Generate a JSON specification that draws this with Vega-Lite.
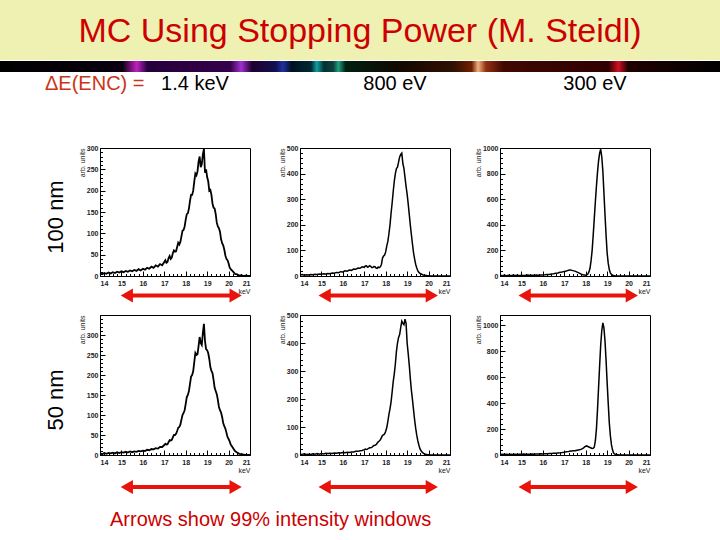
{
  "$schema": "https://vega.github.io/schema/vega-lite/v6.json",
  "padding": 0,
  "background": "white",
  "spacing": 1,
  "datasets": {
    "spectra": [
      {"e":14.0,"a":6,"b":4,"c":4,"d":4,"f":3,"g":4},
      {"e":14.1,"a":4,"b":6,"c":3,"d":2,"f":2,"g":6},
      {"e":14.2,"a":7,"b":3,"c":6,"d":5,"f":4,"g":3},
      {"e":14.3,"a":5,"b":5,"c":2,"d":3,"f":2,"g":5},
      {"e":14.4,"a":8,"b":4,"c":5,"d":5,"f":3,"g":4},
      {"e":14.5,"a":6,"b":6,"c":3,"d":4,"f":2,"g":6},
      {"e":14.6,"a":9,"b":5,"c":6,"d":6,"f":4,"g":3},
      {"e":14.7,"a":7,"b":7,"c":4,"d":4,"f":3,"g":5},
      {"e":14.8,"a":10,"b":6,"c":5,"d":7,"f":5,"g":4},
      {"e":14.9,"a":8,"b":8,"c":3,"d":5,"f":3,"g":6},
      {"e":15.0,"a":11,"b":7,"c":6,"d":7,"f":5,"g":5},
      {"e":15.1,"a":9,"b":9,"c":4,"d":6,"f":4,"g":7},
      {"e":15.2,"a":12,"b":8,"c":5,"d":8,"f":6,"g":5},
      {"e":15.3,"a":10,"b":10,"c":7,"d":6,"f":5,"g":6},
      {"e":15.4,"a":13,"b":9,"c":4,"d":9,"f":6,"g":5},
      {"e":15.5,"a":11,"b":12,"c":6,"d":7,"f":5,"g":7},
      {"e":15.6,"a":14,"b":11,"c":5,"d":9,"f":7,"g":6},
      {"e":15.7,"a":12,"b":14,"c":7,"d":8,"f":6,"g":8},
      {"e":15.8,"a":16,"b":13,"c":6,"d":10,"f":8,"g":7},
      {"e":15.9,"a":13,"b":17,"c":8,"d":9,"f":7,"g":9},
      {"e":16.0,"a":17,"b":16,"c":8,"d":11,"f":9,"g":8},
      {"e":16.1,"a":15,"b":20,"c":9,"d":10,"f":8,"g":9},
      {"e":16.2,"a":19,"b":19,"c":11,"d":13,"f":10,"g":10},
      {"e":16.3,"a":17,"b":23,"c":12,"d":12,"f":9,"g":11},
      {"e":16.4,"a":22,"b":22,"c":15,"d":15,"f":11,"g":12},
      {"e":16.5,"a":19,"b":27,"c":17,"d":14,"f":11,"g":13},
      {"e":16.6,"a":25,"b":26,"c":21,"d":17,"f":13,"g":14},
      {"e":16.7,"a":22,"b":31,"c":24,"d":16,"f":13,"g":16},
      {"e":16.8,"a":28,"b":30,"c":29,"d":20,"f":15,"g":17},
      {"e":16.9,"a":25,"b":36,"c":31,"d":20,"f":16,"g":19},
      {"e":17.0,"a":33,"b":34,"c":36,"d":25,"f":19,"g":22},
      {"e":17.05,"a":37,"b":39,"c":38,"d":28,"f":21,"g":24},
      {"e":17.1,"a":31,"b":40,"c":39,"d":26,"f":20,"g":25},
      {"e":17.15,"a":33,"b":35,"c":42,"d":27,"f":21,"g":26},
      {"e":17.2,"a":42,"b":36,"c":45,"d":32,"f":24,"g":27},
      {"e":17.25,"a":47,"b":40,"c":46,"d":37,"f":26,"g":29},
      {"e":17.3,"a":40,"b":38,"c":46,"d":36,"f":26,"g":30},
      {"e":17.35,"a":43,"b":33,"c":44,"d":38,"f":27,"g":31},
      {"e":17.4,"a":54,"b":33,"c":42,"d":44,"f":31,"g":33},
      {"e":17.45,"a":60,"b":37,"c":40,"d":50,"f":34,"g":33},
      {"e":17.5,"a":57,"b":36,"c":38,"d":50,"f":35,"g":32},
      {"e":17.55,"a":58,"b":31,"c":34,"d":53,"f":37,"g":34},
      {"e":17.6,"a":68,"b":30,"c":30,"d":60,"f":42,"g":36},
      {"e":17.65,"a":78,"b":35,"c":26,"d":68,"f":47,"g":38},
      {"e":17.7,"a":74,"b":33,"c":22,"d":70,"f":50,"g":40},
      {"e":17.75,"a":80,"b":36,"c":18,"d":76,"f":54,"g":42},
      {"e":17.8,"a":93,"b":45,"c":14,"d":88,"f":62,"g":45},
      {"e":17.85,"a":106,"b":70,"c":11,"d":100,"f":70,"g":50},
      {"e":17.9,"a":108,"b":78,"c":8,"d":105,"f":72,"g":55},
      {"e":17.95,"a":116,"b":82,"c":7,"d":112,"f":76,"g":62},
      {"e":18.0,"a":132,"b":95,"c":6,"d":128,"f":85,"g":68},
      {"e":18.05,"a":145,"b":118,"c":9,"d":145,"f":98,"g":70},
      {"e":18.1,"a":147,"b":135,"c":15,"d":150,"f":120,"g":65},
      {"e":18.15,"a":158,"b":165,"c":32,"d":160,"f":145,"g":62},
      {"e":18.2,"a":176,"b":200,"c":60,"d":178,"f":165,"g":58},
      {"e":18.25,"a":190,"b":245,"c":120,"d":196,"f":190,"g":54},
      {"e":18.3,"a":190,"b":285,"c":200,"d":200,"f":225,"g":50},
      {"e":18.35,"a":200,"b":330,"c":320,"d":210,"f":262,"g":52},
      {"e":18.4,"a":222,"b":370,"c":450,"d":232,"f":290,"g":60},
      {"e":18.45,"a":240,"b":400,"c":580,"d":255,"f":325,"g":110},
      {"e":18.5,"a":236,"b":420,"c":700,"d":250,"f":370,"g":200},
      {"e":18.55,"a":245,"b":425,"c":810,"d":252,"f":400,"g":350},
      {"e":18.6,"a":268,"b":445,"c":900,"d":272,"f":420,"g":520},
      {"e":18.65,"a":280,"b":465,"c":960,"d":295,"f":430,"g":690},
      {"e":18.7,"a":255,"b":475,"c":990,"d":280,"f":455,"g":850},
      {"e":18.75,"a":262,"b":480,"c":930,"d":275,"f":478,"g":960},
      {"e":18.8,"a":285,"b":440,"c":820,"d":305,"f":470,"g":1020},
      {"e":18.85,"a":298,"b":420,"c":650,"d":328,"f":465,"g":980},
      {"e":18.9,"a":242,"b":385,"c":480,"d":285,"f":485,"g":880},
      {"e":18.95,"a":250,"b":350,"c":320,"d":265,"f":470,"g":730},
      {"e":19.0,"a":232,"b":320,"c":180,"d":262,"f":400,"g":560},
      {"e":19.05,"a":222,"b":282,"c":100,"d":255,"f":362,"g":400},
      {"e":19.1,"a":200,"b":240,"c":50,"d":240,"f":320,"g":250},
      {"e":19.15,"a":202,"b":198,"c":25,"d":220,"f":272,"g":150},
      {"e":19.2,"a":190,"b":160,"c":12,"d":210,"f":230,"g":80},
      {"e":19.25,"a":170,"b":124,"c":6,"d":205,"f":197,"g":40},
      {"e":19.3,"a":160,"b":90,"c":3,"d":188,"f":160,"g":15},
      {"e":19.35,"a":158,"b":66,"c":2,"d":168,"f":125,"g":8},
      {"e":19.4,"a":145,"b":45,"c":1,"d":160,"f":95,"g":3},
      {"e":19.45,"a":125,"b":31,"c":0,"d":152,"f":70,"g":1},
      {"e":19.5,"a":116,"b":20,"c":0,"d":138,"f":50,"g":1},
      {"e":19.55,"a":112,"b":14,"c":0,"d":120,"f":35,"g":0},
      {"e":19.6,"a":104,"b":10,"c":0,"d":112,"f":22,"g":0},
      {"e":19.65,"a":86,"b":8,"c":0,"d":106,"f":15,"g":0},
      {"e":19.7,"a":77,"b":6,"c":0,"d":95,"f":10,"g":0},
      {"e":19.75,"a":72,"b":4,"c":0,"d":80,"f":7,"g":0},
      {"e":19.8,"a":62,"b":3,"c":0,"d":72,"f":4,"g":0},
      {"e":19.85,"a":48,"b":2,"c":0,"d":66,"f":3,"g":0},
      {"e":19.9,"a":40,"b":2,"c":0,"d":56,"f":2,"g":0},
      {"e":19.95,"a":37,"b":1,"c":0,"d":45,"f":1,"g":0},
      {"e":20.0,"a":30,"b":1,"c":0,"d":40,"f":1,"g":0},
      {"e":20.05,"a":20,"b":0,"c":0,"d":34,"f":0,"g":0},
      {"e":20.1,"a":16,"b":0,"c":0,"d":26,"f":0,"g":0},
      {"e":20.2,"a":11,"b":0,"c":0,"d":18,"f":0,"g":0},
      {"e":20.3,"a":5,"b":0,"c":0,"d":10,"f":0,"g":0},
      {"e":20.4,"a":4,"b":0,"c":0,"d":6,"f":0,"g":0},
      {"e":20.5,"a":1,"b":0,"c":0,"d":3,"f":0,"g":0},
      {"e":20.6,"a":2,"b":0,"c":0,"d":2,"f":0,"g":0},
      {"e":20.7,"a":0,"b":0,"c":0,"d":1,"f":0,"g":0},
      {"e":20.8,"a":1,"b":0,"c":0,"d":0,"f":0,"g":0},
      {"e":20.9,"a":0,"b":0,"c":0,"d":0,"f":0,"g":0},
      {"e":21.0,"a":0,"b":0,"c":0,"d":0,"f":0,"g":0}
    ],
    "windows": [
      {"panel":"p11","lo":15.25,"hi":20.33},
      {"panel":"p12","lo":15.15,"hi":20.15},
      {"panel":"p13","lo":15.15,"hi":20.15},
      {"panel":"p21","lo":15.25,"hi":20.33},
      {"panel":"p22","lo":15.15,"hi":20.15},
      {"panel":"p23","lo":15.15,"hi":20.15}
    ]
  },
  "config": {
    "font": "Liberation Sans",
    "view": {"stroke": null},
    "axis": {
      "grid": false,
      "domainColor": "black",
      "tickColor": "black",
      "tickSize": -5,
      "labelFontSize": 7,
      "labelFontWeight": "bold",
      "labelColor": "#222222",
      "labelPadding": 7,
      "titleFontSize": 7,
      "titleFontWeight": "normal",
      "titleColor": "#222222",
      "titlePadding": 1
    },
    "axisX": {"labelPadding": 8},
    "title": {"font": "Liberation Sans", "fontSize": 20, "fontWeight": "normal", "color": "black", "anchor": "middle", "frame": "group"}
  },
  "vconcat": [
    {
      "width": 720, "height": 60,
      "view": {"fill": "#eef1b2", "stroke": null},
      "data": {"values": [{"t": "MC Using Stopping Power (M. Steidl)"}]},
      "mark": {"type": "text", "fontSize": 34, "color": "#cc0000", "baseline": "middle", "align": "center", "dy": 2},
      "encoding": {"text": {"field": "t"}}
    },
    {
      "width": 720, "height": 11,
      "view": {"stroke": null, "fill": {"gradient": "linear", "x1": 0, "y1": 0, "x2": 1, "y2": 0, "stops": [
        {"offset": 0, "color": "#000000"},
        {"offset": 0.17, "color": "#0a0010"},
        {"offset": 0.19, "color": "#c020c0"},
        {"offset": 0.205, "color": "#25003a"},
        {"offset": 0.32, "color": "#35004a"},
        {"offset": 0.335, "color": "#a030d0"},
        {"offset": 0.35, "color": "#200030"},
        {"offset": 0.383, "color": "#101050"},
        {"offset": 0.393, "color": "#2030a0"},
        {"offset": 0.405, "color": "#001020"},
        {"offset": 0.432, "color": "#002830"},
        {"offset": 0.44, "color": "#10a0a0"},
        {"offset": 0.45, "color": "#003030"},
        {"offset": 0.463, "color": "#104040"},
        {"offset": 0.47, "color": "#20a080"},
        {"offset": 0.48, "color": "#002010"},
        {"offset": 0.55, "color": "#100800"},
        {"offset": 0.63, "color": "#301000"},
        {"offset": 0.655, "color": "#702000"},
        {"offset": 0.664, "color": "#f0b080"},
        {"offset": 0.675, "color": "#903010"},
        {"offset": 0.7, "color": "#400800"},
        {"offset": 0.845, "color": "#300000"},
        {"offset": 0.859, "color": "#d01020"},
        {"offset": 0.872, "color": "#200000"},
        {"offset": 1, "color": "#000000"}
      ]}},
      "data": {"values": []},
      "mark": "point"
    },
    {
      "columns": 4,
      "bounds": "flush",
      "align": "each",
      "spacing": {"row": 14, "column": 50},
      "concat": [
        {
          "width": 50, "height": 128,
          "title": {"text": "ΔE(ENC) =", "anchor": "start", "dx": 45, "offset": 54, "color": "#cc3318"},
          "data": {"values": [{"t": "100 nm"}]},
          "mark": {"type": "text", "angle": 270, "baseline": "top", "align": "center", "fontSize": 22, "color": "black", "dx": -5, "dy": -4},
          "encoding": {"text": {"field": "t"}, "x": {"value": "width"}}
        },
        {
          "width": 150, "height": 128,
          "title": {"text": "1.4 keV", "dx": 20, "offset": 50},
          "data": {"name": "spectra"},
          "view": {"stroke": "black", "fill": "white"},
          "layer": [
            {"mark": {"type": "line", "color": "black", "strokeWidth": 1.8},
             "encoding": {
               "x": {"field": "e", "type": "quantitative", "scale": {"domain": [14, 21], "nice": false, "zero": false}, "axis": {"values": [14,15,16,17,18,19,20,21], "title": "keV", "titleAnchor": "end"}},
               "y": {"field": "a", "type": "quantitative", "scale": {"domain": [0, 300], "nice": false}, "axis": {"values": [0,50,100,150,200,250,300], "title": "arb. units", "titleAnchor": "end"}}}},
            {"mark": {"type": "line", "strokeOpacity": 0},
             "encoding": {
               "x": {"field": "e", "type": "quantitative", "axis": {"orient": "bottom", "values": [14.2,14.4,14.6,14.8,15.2,15.4,15.6,15.8,16.2,16.4,16.6,16.8,17.2,17.4,17.6,17.8,18.2,18.4,18.6,18.8,19.2,19.4,19.6,19.8,20.2,20.4,20.6,20.8], "labels": false, "domain": false, "tickSize": -2.5, "title": null}},
               "y": {"field": "a", "type": "quantitative", "axis": {"orient": "left", "values": [0,10,20,30,40,50,60,70,80,90,100,110,120,130,140,150,160,170,180,190,200,210,220,230,240,250,260,270,280,290,300], "labels": false, "domain": false, "tickSize": -2.5, "title": null}}}}
          ],
          "resolve": {"axis": {"x": "independent", "y": "independent"}}
        },
        {
          "width": 150, "height": 128,
          "title": {"text": "800 eV", "dx": 20, "offset": 50},
          "data": {"name": "spectra"},
          "view": {"stroke": "black", "fill": "white"},
          "layer": [
            {"mark": {"type": "line", "color": "black", "strokeWidth": 1.5},
             "encoding": {
               "x": {"field": "e", "type": "quantitative", "scale": {"domain": [14, 21], "nice": false, "zero": false}, "axis": {"values": [14,15,16,17,18,19,20,21], "title": "keV", "titleAnchor": "end"}},
               "y": {"field": "b", "type": "quantitative", "scale": {"domain": [0, 500], "nice": false}, "axis": {"values": [0,100,200,300,400,500], "title": "arb. units", "titleAnchor": "end"}}}},
            {"mark": {"type": "line", "strokeOpacity": 0},
             "encoding": {
               "x": {"field": "e", "type": "quantitative", "axis": {"orient": "bottom", "values": [14.2,14.4,14.6,14.8,15.2,15.4,15.6,15.8,16.2,16.4,16.6,16.8,17.2,17.4,17.6,17.8,18.2,18.4,18.6,18.8,19.2,19.4,19.6,19.8,20.2,20.4,20.6,20.8], "labels": false, "domain": false, "tickSize": -2.5, "title": null}},
               "y": {"field": "b", "type": "quantitative", "axis": {"orient": "left", "values": [0,20,40,60,80,100,120,140,160,180,200,220,240,260,280,300,320,340,360,380,400,420,440,460,480,500], "labels": false, "domain": false, "tickSize": -2.5, "title": null}}}}
          ],
          "resolve": {"axis": {"x": "independent", "y": "independent"}}
        },
        {
          "width": 150, "height": 128,
          "title": {"text": "300 eV", "dx": 20, "offset": 50},
          "data": {"name": "spectra"},
          "view": {"stroke": "black", "fill": "white"},
          "layer": [
            {"mark": {"type": "line", "color": "black", "strokeWidth": 1.5},
             "encoding": {
               "x": {"field": "e", "type": "quantitative", "scale": {"domain": [14, 21], "nice": false, "zero": false}, "axis": {"values": [14,15,16,17,18,19,20,21], "title": "keV", "titleAnchor": "end"}},
               "y": {"field": "c", "type": "quantitative", "scale": {"domain": [0, 1000], "nice": false}, "axis": {"values": [0,200,400,600,800,1000], "format": "d", "title": "arb. units", "titleAnchor": "end"}}}},
            {"mark": {"type": "line", "strokeOpacity": 0},
             "encoding": {
               "x": {"field": "e", "type": "quantitative", "axis": {"orient": "bottom", "values": [14.2,14.4,14.6,14.8,15.2,15.4,15.6,15.8,16.2,16.4,16.6,16.8,17.2,17.4,17.6,17.8,18.2,18.4,18.6,18.8,19.2,19.4,19.6,19.8,20.2,20.4,20.6,20.8], "labels": false, "domain": false, "tickSize": -2.5, "title": null}},
               "y": {"field": "c", "type": "quantitative", "axis": {"orient": "left", "values": [0,40,80,120,160,200,240,280,320,360,400,440,480,520,560,600,640,680,720,760,800,840,880,920,960,1000], "labels": false, "domain": false, "tickSize": -2.5, "title": null}}}}
          ],
          "resolve": {"axis": {"x": "independent", "y": "independent"}}
        },
        {"width": 50, "height": 11, "data": {"values": []}, "mark": "point"},
        {
          "width": 150, "height": 11,
          "data": {"name": "windows"},
          "transform": [{"filter": "datum.panel == 'p11'"}],
          "encoding": {"y": {"datum": 0, "type": "quantitative", "scale": {"domain": [-1, 1]}, "axis": null}},
          "layer": [
            {"mark": {"type": "rule", "color": "#e8140c", "strokeWidth": 4}, "encoding": {"x": {"field": "lo", "type": "quantitative", "scale": {"domain": [14, 21], "nice": false, "zero": false}, "axis": null}, "x2": {"field": "hi"}}},
            {"mark": {"type": "point", "shape": "triangle-left", "filled": true, "size": 200, "color": "#e8140c", "opacity": 1}, "encoding": {"x": {"field": "lo", "type": "quantitative", "scale": {"domain": [14, 21], "nice": false, "zero": false}, "axis": null}}},
            {"mark": {"type": "point", "shape": "triangle-right", "filled": true, "size": 200, "color": "#e8140c", "opacity": 1}, "encoding": {"x": {"field": "hi", "type": "quantitative", "scale": {"domain": [14, 21], "nice": false, "zero": false}, "axis": null}}}
          ]
        },
        {
          "width": 150, "height": 11,
          "data": {"name": "windows"},
          "transform": [{"filter": "datum.panel == 'p12'"}],
          "encoding": {"y": {"datum": 0, "type": "quantitative", "scale": {"domain": [-1, 1]}, "axis": null}},
          "layer": [
            {"mark": {"type": "rule", "color": "#e8140c", "strokeWidth": 4}, "encoding": {"x": {"field": "lo", "type": "quantitative", "scale": {"domain": [14, 21], "nice": false, "zero": false}, "axis": null}, "x2": {"field": "hi"}}},
            {"mark": {"type": "point", "shape": "triangle-left", "filled": true, "size": 200, "color": "#e8140c", "opacity": 1}, "encoding": {"x": {"field": "lo", "type": "quantitative", "scale": {"domain": [14, 21], "nice": false, "zero": false}, "axis": null}}},
            {"mark": {"type": "point", "shape": "triangle-right", "filled": true, "size": 200, "color": "#e8140c", "opacity": 1}, "encoding": {"x": {"field": "hi", "type": "quantitative", "scale": {"domain": [14, 21], "nice": false, "zero": false}, "axis": null}}}
          ]
        },
        {
          "width": 150, "height": 11,
          "data": {"name": "windows"},
          "transform": [{"filter": "datum.panel == 'p13'"}],
          "encoding": {"y": {"datum": 0, "type": "quantitative", "scale": {"domain": [-1, 1]}, "axis": null}},
          "layer": [
            {"mark": {"type": "rule", "color": "#e8140c", "strokeWidth": 4}, "encoding": {"x": {"field": "lo", "type": "quantitative", "scale": {"domain": [14, 21], "nice": false, "zero": false}, "axis": null}, "x2": {"field": "hi"}}},
            {"mark": {"type": "point", "shape": "triangle-left", "filled": true, "size": 200, "color": "#e8140c", "opacity": 1}, "encoding": {"x": {"field": "lo", "type": "quantitative", "scale": {"domain": [14, 21], "nice": false, "zero": false}, "axis": null}}},
            {"mark": {"type": "point", "shape": "triangle-right", "filled": true, "size": 200, "color": "#e8140c", "opacity": 1}, "encoding": {"x": {"field": "hi", "type": "quantitative", "scale": {"domain": [14, 21], "nice": false, "zero": false}, "axis": null}}}
          ]
        },
        {
          "width": 50, "height": 140,
          "data": {"values": [{"t": "50 nm"}]},
          "mark": {"type": "text", "angle": 270, "baseline": "top", "align": "center", "fontSize": 22, "color": "black", "dx": -15, "dy": -4},
          "encoding": {"text": {"field": "t"}, "x": {"value": "width"}}
        },
        {
          "width": 150, "height": 140,
          "data": {"name": "spectra"},
          "view": {"stroke": "black", "fill": "white"},
          "layer": [
            {"mark": {"type": "line", "color": "black", "strokeWidth": 1.8},
             "encoding": {
               "x": {"field": "e", "type": "quantitative", "scale": {"domain": [14, 21], "nice": false, "zero": false}, "axis": {"values": [14,15,16,17,18,19,20,21], "title": "keV", "titleAnchor": "end"}},
               "y": {"field": "d", "type": "quantitative", "scale": {"domain": [0, 350], "nice": false}, "axis": {"values": [0,50,100,150,200,250,300], "title": "arb. units", "titleAnchor": "end"}}}},
            {"mark": {"type": "line", "strokeOpacity": 0},
             "encoding": {
               "x": {"field": "e", "type": "quantitative", "axis": {"orient": "bottom", "values": [14.2,14.4,14.6,14.8,15.2,15.4,15.6,15.8,16.2,16.4,16.6,16.8,17.2,17.4,17.6,17.8,18.2,18.4,18.6,18.8,19.2,19.4,19.6,19.8,20.2,20.4,20.6,20.8], "labels": false, "domain": false, "tickSize": -2.5, "title": null}},
               "y": {"field": "d", "type": "quantitative", "axis": {"orient": "left", "values": [0,10,20,30,40,50,60,70,80,90,100,110,120,130,140,150,160,170,180,190,200,210,220,230,240,250,260,270,280,290,300,310,320,330,340,350], "labels": false, "domain": false, "tickSize": -2.5, "title": null}}}}
          ],
          "resolve": {"axis": {"x": "independent", "y": "independent"}}
        },
        {
          "width": 150, "height": 140,
          "data": {"name": "spectra"},
          "view": {"stroke": "black", "fill": "white"},
          "layer": [
            {"mark": {"type": "line", "color": "black", "strokeWidth": 1.5},
             "encoding": {
               "x": {"field": "e", "type": "quantitative", "scale": {"domain": [14, 21], "nice": false, "zero": false}, "axis": {"values": [14,15,16,17,18,19,20,21], "title": "keV", "titleAnchor": "end"}},
               "y": {"field": "f", "type": "quantitative", "scale": {"domain": [0, 500], "nice": false}, "axis": {"values": [0,100,200,300,400,500], "title": "arb. units", "titleAnchor": "end"}}}},
            {"mark": {"type": "line", "strokeOpacity": 0},
             "encoding": {
               "x": {"field": "e", "type": "quantitative", "axis": {"orient": "bottom", "values": [14.2,14.4,14.6,14.8,15.2,15.4,15.6,15.8,16.2,16.4,16.6,16.8,17.2,17.4,17.6,17.8,18.2,18.4,18.6,18.8,19.2,19.4,19.6,19.8,20.2,20.4,20.6,20.8], "labels": false, "domain": false, "tickSize": -2.5, "title": null}},
               "y": {"field": "f", "type": "quantitative", "axis": {"orient": "left", "values": [0,20,40,60,80,100,120,140,160,180,200,220,240,260,280,300,320,340,360,380,400,420,440,460,480,500], "labels": false, "domain": false, "tickSize": -2.5, "title": null}}}}
          ],
          "resolve": {"axis": {"x": "independent", "y": "independent"}}
        },
        {
          "width": 150, "height": 140,
          "data": {"name": "spectra"},
          "view": {"stroke": "black", "fill": "white"},
          "layer": [
            {"mark": {"type": "line", "color": "black", "strokeWidth": 1.5},
             "encoding": {
               "x": {"field": "e", "type": "quantitative", "scale": {"domain": [14, 21], "nice": false, "zero": false}, "axis": {"values": [14,15,16,17,18,19,20,21], "title": "keV", "titleAnchor": "end"}},
               "y": {"field": "g", "type": "quantitative", "scale": {"domain": [0, 1080], "nice": false}, "axis": {"values": [0,200,400,600,800,1000], "format": "d", "title": "arb. units", "titleAnchor": "end"}}}},
            {"mark": {"type": "line", "strokeOpacity": 0},
             "encoding": {
               "x": {"field": "e", "type": "quantitative", "axis": {"orient": "bottom", "values": [14.2,14.4,14.6,14.8,15.2,15.4,15.6,15.8,16.2,16.4,16.6,16.8,17.2,17.4,17.6,17.8,18.2,18.4,18.6,18.8,19.2,19.4,19.6,19.8,20.2,20.4,20.6,20.8], "labels": false, "domain": false, "tickSize": -2.5, "title": null}},
               "y": {"field": "g", "type": "quantitative", "axis": {"orient": "left", "values": [0,40,80,120,160,200,240,280,320,360,400,440,480,520,560,600,640,680,720,760,800,840,880,920,960,1000,1040,1080], "labels": false, "domain": false, "tickSize": -2.5, "title": null}}}}
          ],
          "resolve": {"axis": {"x": "independent", "y": "independent"}}
        },
        {"width": 50, "height": 36, "data": {"values": []}, "mark": "point"},
        {
          "width": 150, "height": 36,
          "title": {"text": "Arrows show 99% intensity windows", "orient": "bottom", "anchor": "start", "dx": 10, "offset": 5, "fontSize": 20, "color": "#cc0000"},
          "data": {"name": "windows"},
          "transform": [{"filter": "datum.panel == 'p21'"}],
          "encoding": {"y": {"datum": 0, "type": "quantitative", "scale": {"domain": [-1, 1]}, "axis": null}},
          "layer": [
            {"mark": {"type": "rule", "color": "#e8140c", "strokeWidth": 4}, "encoding": {"x": {"field": "lo", "type": "quantitative", "scale": {"domain": [14, 21], "nice": false, "zero": false}, "axis": null}, "x2": {"field": "hi"}}},
            {"mark": {"type": "point", "shape": "triangle-left", "filled": true, "size": 200, "color": "#e8140c", "opacity": 1}, "encoding": {"x": {"field": "lo", "type": "quantitative", "scale": {"domain": [14, 21], "nice": false, "zero": false}, "axis": null}}},
            {"mark": {"type": "point", "shape": "triangle-right", "filled": true, "size": 200, "color": "#e8140c", "opacity": 1}, "encoding": {"x": {"field": "hi", "type": "quantitative", "scale": {"domain": [14, 21], "nice": false, "zero": false}, "axis": null}}}
          ]
        },
        {
          "width": 150, "height": 36,
          "data": {"name": "windows"},
          "transform": [{"filter": "datum.panel == 'p22'"}],
          "encoding": {"y": {"datum": 0, "type": "quantitative", "scale": {"domain": [-1, 1]}, "axis": null}},
          "layer": [
            {"mark": {"type": "rule", "color": "#e8140c", "strokeWidth": 4}, "encoding": {"x": {"field": "lo", "type": "quantitative", "scale": {"domain": [14, 21], "nice": false, "zero": false}, "axis": null}, "x2": {"field": "hi"}}},
            {"mark": {"type": "point", "shape": "triangle-left", "filled": true, "size": 200, "color": "#e8140c", "opacity": 1}, "encoding": {"x": {"field": "lo", "type": "quantitative", "scale": {"domain": [14, 21], "nice": false, "zero": false}, "axis": null}}},
            {"mark": {"type": "point", "shape": "triangle-right", "filled": true, "size": 200, "color": "#e8140c", "opacity": 1}, "encoding": {"x": {"field": "hi", "type": "quantitative", "scale": {"domain": [14, 21], "nice": false, "zero": false}, "axis": null}}}
          ]
        },
        {
          "width": 150, "height": 36,
          "data": {"name": "windows"},
          "transform": [{"filter": "datum.panel == 'p23'"}],
          "encoding": {"y": {"datum": 0, "type": "quantitative", "scale": {"domain": [-1, 1]}, "axis": null}},
          "layer": [
            {"mark": {"type": "rule", "color": "#e8140c", "strokeWidth": 4}, "encoding": {"x": {"field": "lo", "type": "quantitative", "scale": {"domain": [14, 21], "nice": false, "zero": false}, "axis": null}, "x2": {"field": "hi"}}},
            {"mark": {"type": "point", "shape": "triangle-left", "filled": true, "size": 200, "color": "#e8140c", "opacity": 1}, "encoding": {"x": {"field": "lo", "type": "quantitative", "scale": {"domain": [14, 21], "nice": false, "zero": false}, "axis": null}}},
            {"mark": {"type": "point", "shape": "triangle-right", "filled": true, "size": 200, "color": "#e8140c", "opacity": 1}, "encoding": {"x": {"field": "hi", "type": "quantitative", "scale": {"domain": [14, 21], "nice": false, "zero": false}, "axis": null}}}
          ]
        }
      ]
    }
  ]
}
